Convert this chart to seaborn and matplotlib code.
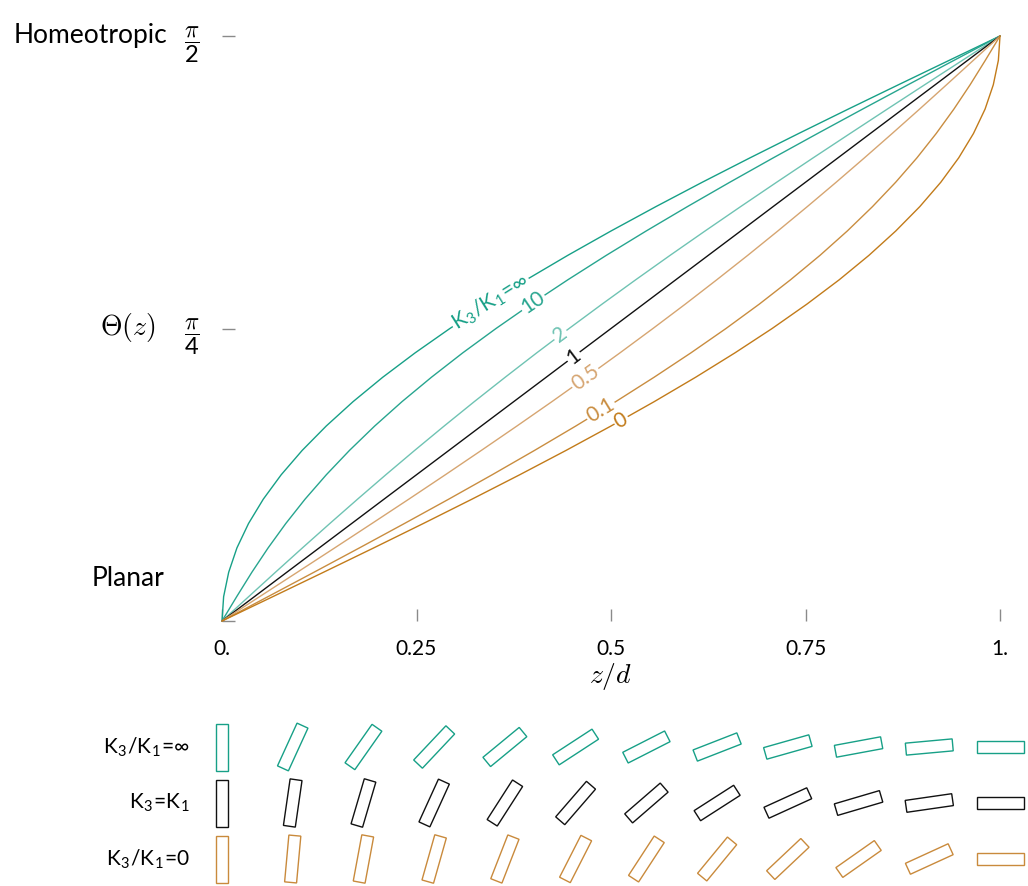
import numpy as np
import pandas as pd
import matplotlib
matplotlib.use("Agg")
import matplotlib.pyplot as plt
import seaborn as sns
from matplotlib.patches import Polygon

# ---------------- data ----------------
# director tilt angle (degrees) shared by the curves
theta_deg = [0, 3.75, 7.5, 11.25, 15, 18.75, 22.5, 26.25, 30, 33.75, 37.5, 41.25, 45,
             48.75, 52.5, 56.25, 60, 63.75, 67.5, 71.25, 75, 78.75, 82.5, 86.25, 90]

# z/d reached at each tilt angle, for each elastic ratio K3/K1
z_inf = [0, .0021, .0086, .0192, .0341, .0531, .0761, .1031, .1340, .1685, .2066, .2482, .2929,
         .3407, .3912, .4444, .5000, .5577, .6173, .6786, .7412, .8049, .8695, .9346, 1]
z_10 = [0, .0189, .0384, .0593, .0820, .1068, .1341, .1639, .1963, .2314, .2692, .3094, .3522,
        .3973, .4446, .4939, .5452, .5982, .6527, .7085, .7655, .8233, .8818, .9408, 1]
z_2 = [0, .0343, .0687, .1034, .1386, .1743, .2106, .2477, .2856, .3243, .3640, .4045, .4461,
       .4885, .5318, .5759, .6209, .6666, .7129, .7598, .8073, .8551, .9032, .9516, 1]
z_1 = [0, .0417, .0833, .1250, .1667, .2083, .2500, .2917, .3333, .3750, .4167, .4583, .5000,
       .5417, .5833, .6250, .6667, .7083, .7500, .7917, .8333, .8750, .9167, .9583, 1]
z_05 = [0, .0484, .0968, .1449, .1927, .2402, .2871, .3334, .3791, .4241, .4682, .5115, .5539,
        .5955, .6360, .6757, .7144, .7523, .7894, .8257, .8614, .8966, .9313, .9657, 1]
z_01 = [0, .0592, .1182, .1767, .2345, .2915, .3473, .4018, .4548, .5061, .5554, .6027, .6478,
        .6906, .7308, .7686, .8037, .8361, .8659, .8932, .9180, .9407, .9616, .9811, 1]
z_0 = [0, .0654, .1305, .1951, .2588, .3214, .3827, .4423, .5000, .5556, .6088, .6593, .7071,
       .7518, .7934, .8315, .8660, .8969, .9239, .9469, .9659, .9808, .9914, .9979, 1]

series_names = ["inf", "10", "2", "1", "0.5", "0.1", "0"]
series_z = [z_inf, z_10, z_2, z_1, z_05, z_01, z_0]
series_labels = [r"K$_{\mathdefault{3}}$/K$_{\mathdefault{1}}$=∞", "10", "2", "1", "0.5", "0.1", "0"]
label_z = [0.345, 0.400, 0.435, 0.452, 0.467, 0.487, 0.513]
series_colors = ["#17a087", "#27a58f", "#6fc3b3", "#111111", "#d6a571", "#c98d40", "#c27b1a"]

# x / y ticks
x_ticks = [0, 0.25, 0.5, 0.75, 1]
x_ticklabels = ["0.", "0.25", "0.5", "0.75", "1."]
y_ticks = [0, np.pi / 4, np.pi / 2]
y_ticklabels = ["", r"$\dfrac{\pi}{\mathdefault{4}}$", r"$\dfrac{\pi}{\mathdefault{2}}$"]

# director glyph rows: positions z/d and tilt angles (degrees)
dir_z = [0, 0.0909, 0.1818, 0.2727, 0.3636, 0.4545, 0.5455, 0.6364, 0.7273, 0.8182, 0.9091, 1]
dir_inf = [0, 24.6, 35.1, 43.3, 50.5, 56.9, 63.0, 68.7, 74.2, 79.5, 84.8, 90]
dir_1 = [0, 8.2, 16.4, 24.5, 32.7, 40.9, 49.1, 57.3, 65.5, 73.6, 81.8, 90]
dir_0 = [0, 5.2, 10.5, 15.8, 21.3, 27.0, 33.1, 39.5, 46.7, 54.9, 65.4, 90]
dir_rows = [dir_inf, dir_1, dir_0]
dir_row_labels = [r"K$_{\mathdefault{3}}$/K$_{\mathdefault{1}}$=∞",
                  r"K$_{\mathdefault{3}}$=K$_{\mathdefault{1}}$",
                  r"K$_{\mathdefault{3}}$/K$_{\mathdefault{1}}$=0"]
dir_colors = ["#17a087", "#111111", "#c98a3c"]

# ---------------- style ----------------
sns.set_theme(style="white")
plt.rcParams["font.family"] = ["Lato", "DejaVu Sans"]
plt.rcParams["mathtext.fontset"] = "cm"
for key in ["text.color", "axes.labelcolor", "xtick.labelcolor", "ytick.labelcolor"]:
    plt.rcParams[key] = "black"

W, H = 1028, 886
fig = plt.figure(figsize=(W / 100, H / 100), dpi=100)
ax = fig.add_axes([222 / W, (H - 621) / H, 778 / W, 585 / H])

rows = []
for name, zs in zip(series_names, series_z):
    for t, zz in zip(theta_deg, zs):
        rows.append({"z": zz, "theta": np.deg2rad(t), "K": name})
df = pd.DataFrame(rows)

sns.lineplot(data=df, x="z", y="theta", hue="K", hue_order=series_names,
             palette=dict(zip(series_names, series_colors)), estimator=None,
             sort=False, legend=False, linewidth=1.0, ax=ax, clip_on=False)

ax.set_xlim(0, 1)
ax.set_ylim(0, np.pi / 2)
for s in ax.spines.values():
    s.set_visible(False)
ax.set_xticks(x_ticks)
ax.set_xticklabels(x_ticklabels, fontsize=15)
ax.set_yticks(y_ticks)
ax.set_yticklabels(y_ticklabels, fontsize=17)
ax.tick_params(axis="both", direction="in", length=9, width=1.0, color="#8a8a8a",
               labelcolor="black", left=True, bottom=True)
ax.tick_params(axis="x", pad=13)
ax.tick_params(axis="y", pad=16)
ax.yaxis.get_major_ticks()[0].tick1line.set_color("black")
ax.set_xlabel("")
ax.set_ylabel("")

# inline curve labels
for zs, lab, zl, col in zip(series_z, series_labels, label_z, series_colors):
    th = np.deg2rad(theta_deg)
    t0 = np.interp(zl, zs, th)
    p1 = ax.transData.transform((zl - 0.01, np.interp(zl - 0.01, zs, th)))
    p2 = ax.transData.transform((zl + 0.01, np.interp(zl + 0.01, zs, th)))
    ang = np.degrees(np.arctan2(p2[1] - p1[1], p2[0] - p1[0]))
    ax.text(zl, t0, lab, color=col, fontsize=15, rotation=ang,
            rotation_mode="anchor", ha="center", va="center",
            bbox=dict(facecolor="white", edgecolor="none", pad=1.0), zorder=5)

# axis titles and side annotations
fig.text(128 / W, 1 - 328 / H, r"$\Theta(z)$", fontsize=20, ha="center", va="center")
fig.text(611 / W, 1 - 676 / H, r"$z/d$", fontsize=20, ha="center", va="center")
fig.text(91 / W, 1 - 36 / H, "Homeotropic", fontsize=19, ha="center", va="center")
fig.text(128 / W, 1 - 579 / H, "Planar", fontsize=19, ha="center", va="center")

# ---------------- director glyphs ----------------
ax2 = fig.add_axes([222 / W, 0, 778 / W, 180 / H])
ax2.set_xlim(0, 1)
ax2.set_ylim(0, 180 / 778)
ax2.axis("off")
row_y = [(H - 747) / 778, (H - 803) / 778, (H - 859) / 778]
L, Wd = 47 / 778, 12 / 778
for angs, yc, col, lab in zip(dir_rows, row_y, dir_colors, dir_row_labels):
    for zc, a in zip(dir_z, angs):
        r = np.deg2rad(a)
        u = np.array([np.sin(r), np.cos(r)]) * L / 2
        n = np.array([np.cos(r), -np.sin(r)]) * Wd / 2
        c = np.array([zc, yc])
        pts = [c + u + n, c + u - n, c - u - n, c - u + n]
        ax2.add_patch(Polygon(pts, closed=True, fill=False, edgecolor=col,
                              linewidth=1.0, clip_on=False))
    ax2.text(-32 / 778, yc, lab, fontsize=15, ha="right", va="center", color="black")

fig.savefig("out.png", dpi=100, facecolor="white")
